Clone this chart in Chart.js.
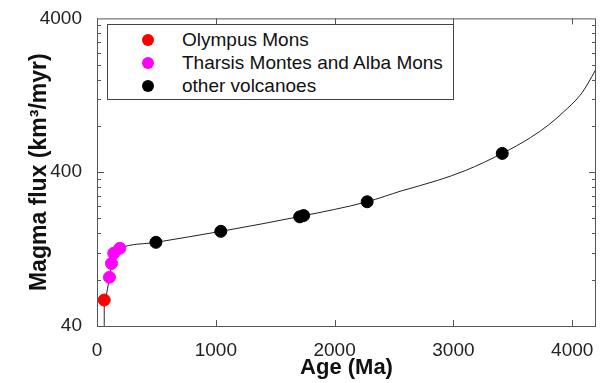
<!DOCTYPE html>
<html>
<head>
<meta charset="utf-8">
<script src="https://cdn.jsdelivr.net/npm/chart.js@4/dist/chart.umd.min.js"></script>
<style>
  html, body { margin: 0; padding: 0; background: #fff; }
  #wrap { position: relative; width: 603px; height: 383px; }
  #legend {
    position: absolute; left: 107px; top: 24px; width: 345px; height: 74px;
    border: 1px solid #444; background: #fff;
    font-family: "Liberation Sans", Arial, sans-serif; font-size: 19px; color: #111;
  }
  #legend div { position: absolute; left: 74px; height: 22px; line-height: 22px; white-space: nowrap; }
  #legend span { position: absolute; left: -40px; top: 5px; width: 12px; height: 12px; border-radius: 50%; }
</style>
</head>
<body>
<div id="wrap">
  <canvas id="c" width="603" height="383"></canvas>
  <div id="legend">
    <div style="top:4px"><span style="background:#ff0000"></span>Olympus Mons</div>
    <div style="top:27px"><span style="background:#ff00ff"></span>Tharsis Montes and Alba Mons</div>
    <div style="top:50px"><span style="background:#000"></span>other volcanoes</div>
  </div>
</div>
<script>
const ageOlympus = [61];
const fluxOlympus = [59];

const ageTharsis = [105, 122, 141, 192];
const fluxTharsis = [83, 102, 119, 128];

const ageOther = [496, 1042, 1706, 1739, 2274, 3411];
const fluxOther = [140, 165, 205, 209, 257, 530];

const ageCurve = [61, 61, 105, 122, 141, 192, 496, 1042, 1720, 2274, 2560, 2868, 3100, 3411, 3648, 3800, 3927, 4066, 4130, 4200];
const fluxCurve = [40, 59, 83, 102, 119, 128, 140, 165, 207, 257, 302, 354, 410, 530, 671, 811, 986, 1265, 1500, 1875];

const xTicks = [0, 1000, 2000, 3000, 4000];
const yTicks = [40, 400, 4000];

const toPts = (xs, ys) => xs.map((x, i) => ({ x, y: ys[i] }));

const frameTicks = {
    id: "frameTicks",
    afterDraw(chart) {
        const { ctx, chartArea: a, scales } = chart;
        const xs = scales.x, ys = scales.y;
        ctx.save();
        ctx.strokeStyle = "#555";
        ctx.lineWidth = 1;
        ctx.strokeRect(a.left + 0.5, a.top + 0.5, a.right - a.left - 1, a.bottom - a.top);
        ctx.beginPath();
        xTicks.forEach(v => {
            const p = Math.round(xs.getPixelForValue(v)) + 0.5;
            ctx.moveTo(p, a.bottom); ctx.lineTo(p, a.bottom - 6);
            ctx.moveTo(p, a.top); ctx.lineTo(p, a.top + 6);
        });
        for (let d = 40; d < 4000; d *= 10) {
            for (let m = 1; m < 10; m++) {
                const v = d * m;
                const p = Math.round(ys.getPixelForValue(v)) + 0.5;
                const len = m === 1 ? 7 : 4;
                ctx.moveTo(a.left, p); ctx.lineTo(a.left + len, p);
                ctx.moveTo(a.right, p); ctx.lineTo(a.right - len, p);
            }
        }
        ctx.stroke();
        ctx.restore();
    }
};

new Chart(document.getElementById("c"), {
    type: "scatter",
    data: {
        datasets: [
            {
                label: "curve",
                type: "line",
                data: toPts(ageCurve, fluxCurve),
                borderColor: "#222",
                borderWidth: 1,
                pointRadius: 0,
                cubicInterpolationMode: "monotone",
                order: 2
            },
            {
                label: "Olympus Mons",
                data: toPts(ageOlympus, fluxOlympus),
                backgroundColor: "#ff0000",
                borderColor: "#ff0000",
                pointRadius: 6,
                order: 1
            },
            {
                label: "Tharsis Montes and Alba Mons",
                data: toPts(ageTharsis, fluxTharsis),
                backgroundColor: "#ff00ff",
                borderColor: "#ff00ff",
                pointRadius: 6,
                order: 1
            },
            {
                label: "other volcanoes",
                data: toPts(ageOther, fluxOther),
                backgroundColor: "#000",
                borderColor: "#000",
                pointRadius: 6,
                order: 1
            }
        ]
    },
    options: {
        responsive: false,
        animation: false,
        layout: { padding: { left: 26, right: 3, top: 15, bottom: 0 } },
        plugins: { legend: { display: false }, tooltip: { enabled: false } },
        scales: {
            x: {
                type: "linear",
                min: 0,
                max: 4200,
                afterBuildTicks: s => { s.ticks = xTicks.map(v => ({ value: v })); },
                afterFit: s => { s.height = 57; },
                grid: { display: false },
                border: { display: false },
                ticks: {
                    color: "#222",
                    padding: 5,
                    maxRotation: 0,
                    font: { family: "Liberation Sans", size: 19 },
                    callback: v => String(v)
                },
                title: {
                    display: true,
                    text: "Age (Ma)",
                    color: "#111",
                    padding: { top: 0, bottom: 2 },
                    font: { family: "Liberation Sans", size: 22, weight: "bold" }
                }
            },
            y: {
                type: "logarithmic",
                min: 40,
                max: 4000,
                afterBuildTicks: s => { s.ticks = yTicks.map(v => ({ value: v })); },
                afterFit: s => { s.width = 71; },
                grid: { display: false },
                border: { display: false },
                ticks: {
                    color: "#222",
                    padding: 7,
                    font: { family: "Liberation Sans", size: 19 },
                    callback: v => String(v)
                },
                title: {
                    display: true,
                    text: "Magma flux (km³/myr)",
                    color: "#111",
                    padding: { top: 0, bottom: 0 },
                    font: { family: "Liberation Sans", size: 23, weight: "bold" }
                }
            }
        }
    },
    plugins: [frameTicks]
});
</script>
</body>
</html>
